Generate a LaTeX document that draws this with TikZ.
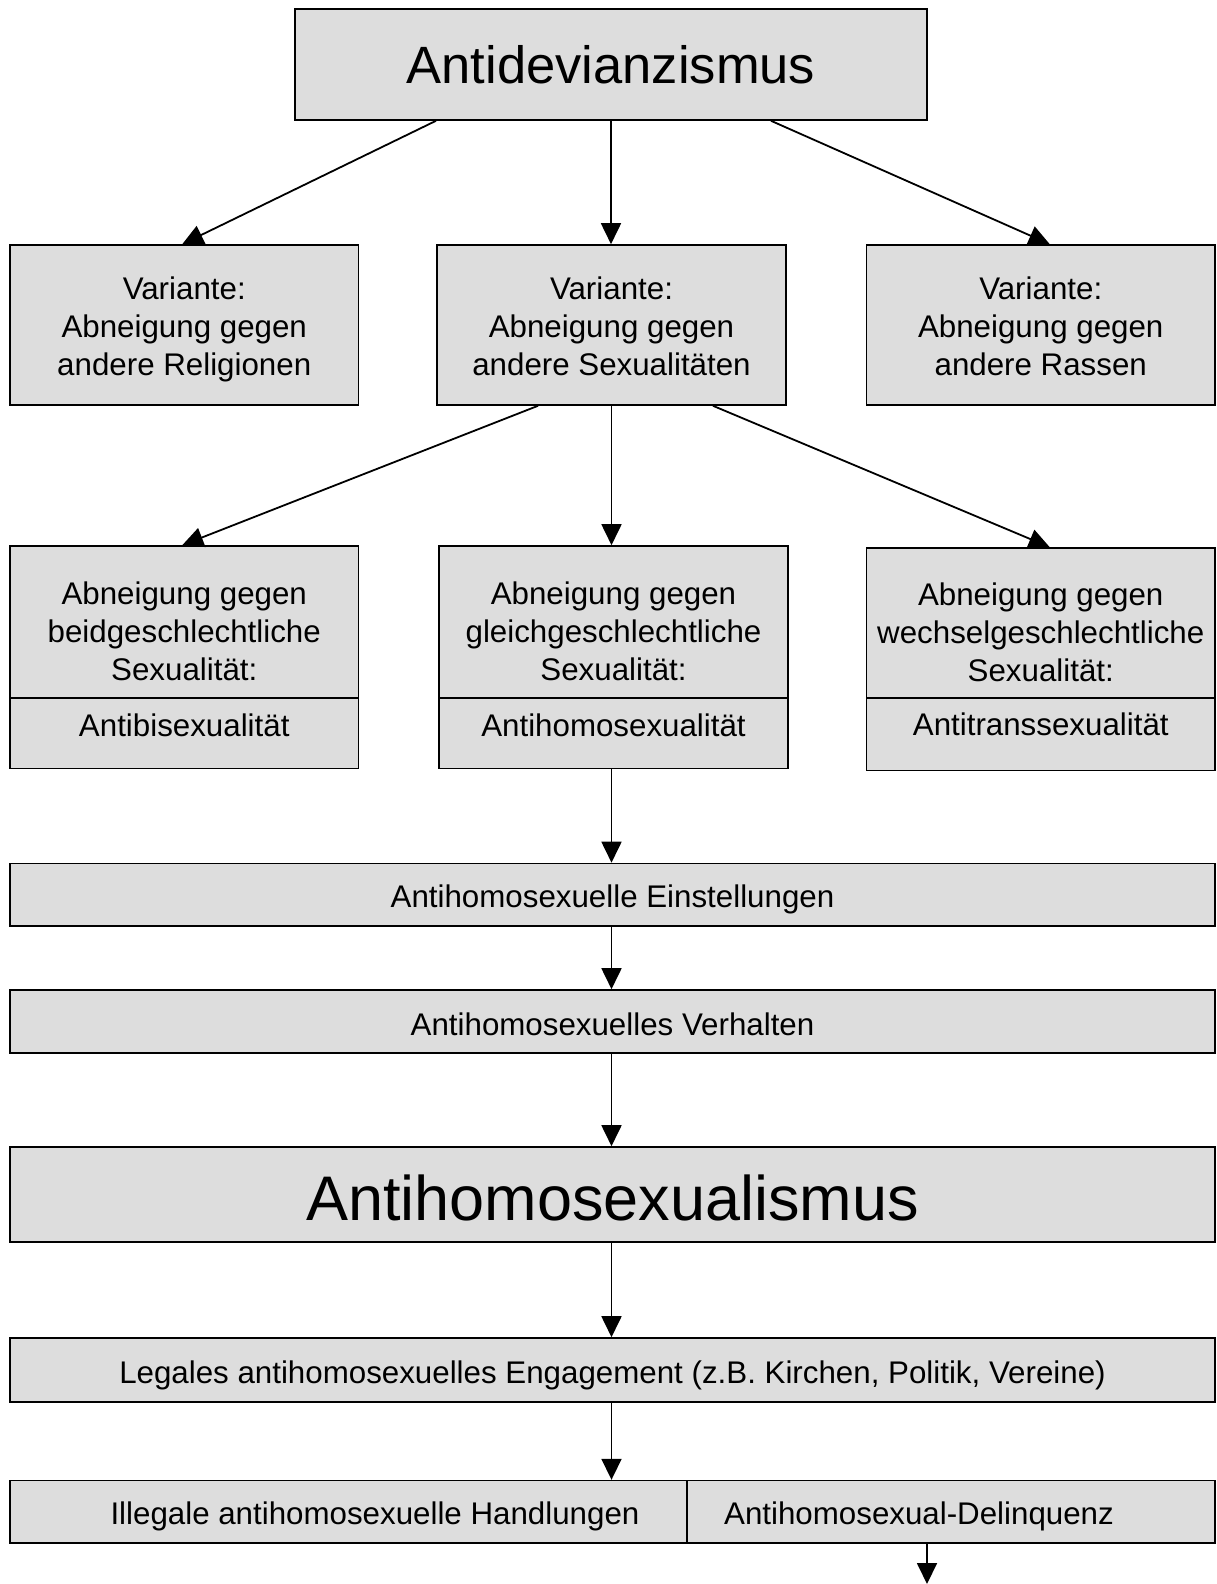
\documentclass[tikz,border=0pt]{standalone}
\usepackage{fontspec}
\setmainfont{Liberation Sans}
\usetikzlibrary{arrows.meta,calc}
\definecolor{boxgray}{HTML}{DDDDDD}
\newcommand\bodyfont{\fontsize{31.3}{38}\selectfont}
\newcommand\titlefont{\fontsize{52.5}{60}\selectfont}
\newcommand\hugefont{\fontsize{63}{70}\selectfont}
\begin{document}
\begin{tikzpicture}[x=1pt,y=-1pt,
  box/.style={draw, fill=boxgray, line width=1.6pt, inner sep=0pt},
  txt/.style={inner sep=0pt, align=center, font=\bodyfont},
  arr/.style={line width=1.8pt, -{Triangle[length=21pt,width=20pt]}}]
\useasboundingbox (0,0) rectangle (1217,1584);
\fill[white] (0,0) rectangle (1217,1584);
% top
\node[box, minimum width=632pt, minimum height=111pt] (top) at (611,64.5) {};
\node[txt, font=\titlefont] (topt) at (top.center) {Antidevianzismus};
% row 2
\node[box, minimum width=348.5pt, minimum height=160pt] (rel) at (184.25,325) {};
\node[box, minimum width=349pt, minimum height=160pt] (sex) at (611.5,325) {};
\node[box, minimum width=348.5pt, minimum height=160pt] (ras) at (1040.75,325) {};
\node[txt, yshift=-4pt] (relt) at (rel.center) {Variante:\\Abneigung gegen\\andere Religionen};
\node[txt, yshift=-1pt] (sext) at (sex.center) {Variante:\\Abneigung gegen\\andere Sexualitäten};
\node[txt, yshift=-1pt] (rast) at (ras.center) {Variante:\\Abneigung gegen\\andere Rassen};
% row 3
\node[box, minimum width=348.5pt, minimum height=152pt] (bi) at (184.25,622) {};
\node[box, minimum width=348.5pt, minimum height=70.5pt] (bib) at (184.25,733.25) {};
\node[box, minimum width=349pt, minimum height=152pt] (ho) at (613.5,622) {};
\node[box, minimum width=349pt, minimum height=70.5pt] (hob) at (613.5,733.25) {};
\node[box, minimum width=348.5pt, minimum height=150pt] (tr) at (1040.75,623) {};
\node[box, minimum width=348.5pt, minimum height=72.5pt] (trb) at (1040.75,734.25) {};
\node[txt, yshift=-9pt] (bit) at (bi.center) {Abneigung gegen\\beidgeschlechtliche\\Sexualität:};
\node[txt, yshift=8pt] (bibt) at (bib.center) {Antibisexualität};
\node[txt, yshift=-9pt] (hot) at (ho.center) {Abneigung gegen\\gleichgeschlechtliche\\Sexualität:};
\node[txt, yshift=8pt] (hobt) at (hob.center) {Antihomosexualität};
\node[txt, yshift=-9pt] (trt) at (tr.center) {Abneigung gegen\\wechselgeschlechtliche\\Sexualität:};
\node[txt, yshift=10pt] (trbt) at (trb.center) {Antitranssexualität};
% chain
\node[box, minimum width=1205pt, minimum height=62.5pt] (ein) at (612.5,894.75) {};
\node[txt, yshift=-5pt] (eint) at (ein.center) {Antihomosexuelle Einstellungen};
\node[box, minimum width=1205pt, minimum height=63pt] (ver) at (612.5,1021.5) {};
\node[txt, yshift=-3pt] (vert) at (ver.center) {Antihomosexuelles Verhalten};
\node[box, minimum width=1205pt, minimum height=95pt] (ahs) at (612.5,1194.5) {};
\node[txt, font=\hugefont, yshift=-3pt] (ahst) at (ahs.center) {Antihomosexualismus};
\node[box, minimum width=1205pt, minimum height=64pt] (leg) at (612.5,1370) {};
\node[txt, yshift=-5pt] (legt) at (leg.center) {Legales antihomosexuelles Engagement (z.B. Kirchen, Politik, Vereine)};
\node[box, minimum width=677pt, minimum height=62.4pt] (ill) at (348.5,1511.8) {};
\node[box, minimum width=528pt, minimum height=62.4pt] (del) at (951,1511.8) {};
\node[txt, yshift=-5pt] (illt) at (375,1511.8) {Illegale antihomosexuelle Handlungen};
\node[txt, yshift=-5pt] (delt) at (919,1511.8) {Antihomosexual-Delinquenz};
\coordinate (end) at (927,1584);
% arrows
\draw[arr] ($(top.south)+(-175,0)$) -- ($(rel.north)+(-2,0)$);
\draw[arr] (top.south) -- (top.south |- sex.north);
\draw[arr] ($(top.south)+(160,0)$) -- ($(ras.north)+(9,0)$);
\draw[arr] ($(sex.south)+(-73.5,0)$) -- ($(bi.north)+(-2,0)$);
\draw[arr] (sex.south) -- (sex.south |- ho.north);
\draw[arr] ($(sex.south)+(101.5,0)$) -- ($(tr.north)+(9,0)$);
\draw[arr] (sex.south |- hob.south) -- (sex.south |- ein.north);
\draw[arr] (sex.south |- ein.south) -- (sex.south |- ver.north);
\draw[arr] (sex.south |- ver.south) -- (sex.south |- ahs.north);
\draw[arr] (sex.south |- ahs.south) -- (sex.south |- leg.north);
\draw[arr] (sex.south |- leg.south) -- (sex.south |- ill.north);
\draw[arr] (end |- del.south) -- (end);
\end{tikzpicture}
\end{document}
